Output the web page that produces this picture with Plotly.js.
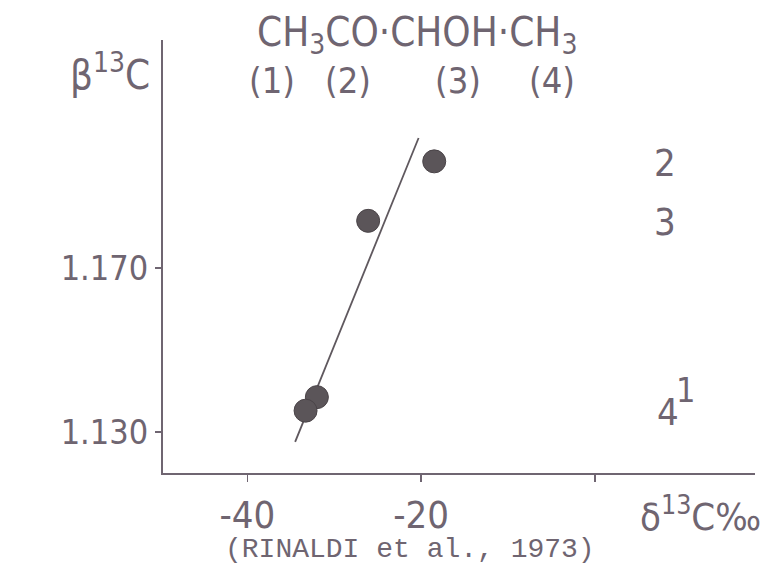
<!DOCTYPE html>
<html><head><meta charset="utf-8">
<script src="https://cdn.plot.ly/plotly-3.0.1.min.js"></script>
<style>html,body{margin:0;padding:0;background:#fff}#chart{width:767px;height:576px}</style>
</head><body><div id="chart"></div>
<script>
// Data (RINALDI et al., 1973)
const deltaC13 = [-18.5, -26.1, -32.0, -33.3];      // δ13C ‰
const betaC13 = [1.1960, 1.1815, 1.1385, 1.1352];  // β13C
const fitX = [-34.5, -20.3];
const fitY = [1.1276, 1.2017];
const xTickVals = [-40, -20, 0];
const xTickText = ['-40', '-20', ''];
const yTickVals = [1.130, 1.170];
const yTickText = ['1.130', '1.170'];

const ink = '#6f6571';
const dot = '#5b5559';
const F = 'DejaVu Sans Condensed, DejaVu Sans, sans-serif';

const traces = [
  {x: fitX, y: fitY, mode: 'lines', line: {color: '#5f585e', width: 1.8}, hoverinfo: 'skip'},
  {x: deltaC13, y: betaC13, mode: 'markers',
   marker: {size: 23, color: dot, line: {color: '#4a4448', width: 1}}}
];

const ann = (text, x, y, size, extra) => Object.assign({
  text, x, y, xref: 'paper', yref: 'paper', showarrow: false,
  font: {family: F, size, color: ink}, xanchor: 'center', yanchor: 'middle'
}, extra || {});

const P = (px) => (px - 163) / 592;
const Q = (py) => (473 - py) / 433;

const layout = {
  width: 767, height: 576,
  margin: {l: 163, r: 12, t: 40, b: 103},
  paper_bgcolor: '#fff', plot_bgcolor: '#fff',
  showlegend: false,
  xaxis: {
    range: [-49.7, 18.4], tickvals: xTickVals, ticktext: xTickText,
    showgrid: false, zeroline: false, showline: true, linecolor: ink, linewidth: 2,
    ticks: 'outside', ticklen: 7, tickcolor: ink, tickwidth: 1.5,
    tickfont: {family: F, size: 38, color: ink}
  },
  yaxis: {
    range: [1.120, 1.2256], tickvals: yTickVals, ticktext: yTickText,
    showgrid: false, zeroline: false, showline: true, linecolor: ink, linewidth: 2,
    ticks: 'outside', ticklen: 6, tickcolor: ink, tickwidth: 1.5,
    tickfont: {family: F, size: 34, color: ink}
  },
  annotations: [
    ann('CH<sub>3</sub>CO·CHOH·CH<sub>3</sub>', P(417), Q(35), 40),
    ann('(1)', P(272), Q(80), 36),
    ann('(2)', P(348), Q(80), 36),
    ann('(3)', P(458), Q(80), 36),
    ann('(4)', P(552), Q(80), 36),
    ann('β<sup>13</sup>C', P(110), Q(72), 40),
    ann('2', P(665), Q(163), 38),
    ann('3', P(665), Q(222), 38),
    ann('4', P(668), Q(412), 38),
    ann('1', P(685), Q(390), 34),
    ann('δ<sup>13</sup>C‰', P(700), Q(514), 38),
    ann('(RINALDI et al., 1973)', P(410), Q(549), 28, {font: {family: 'Liberation Mono, Courier New, monospace', size: 28, color: ink}})
  ]
};

Plotly.newPlot('chart', traces, layout, {displayModeBar: false, staticPlot: true});
</script></body></html>
